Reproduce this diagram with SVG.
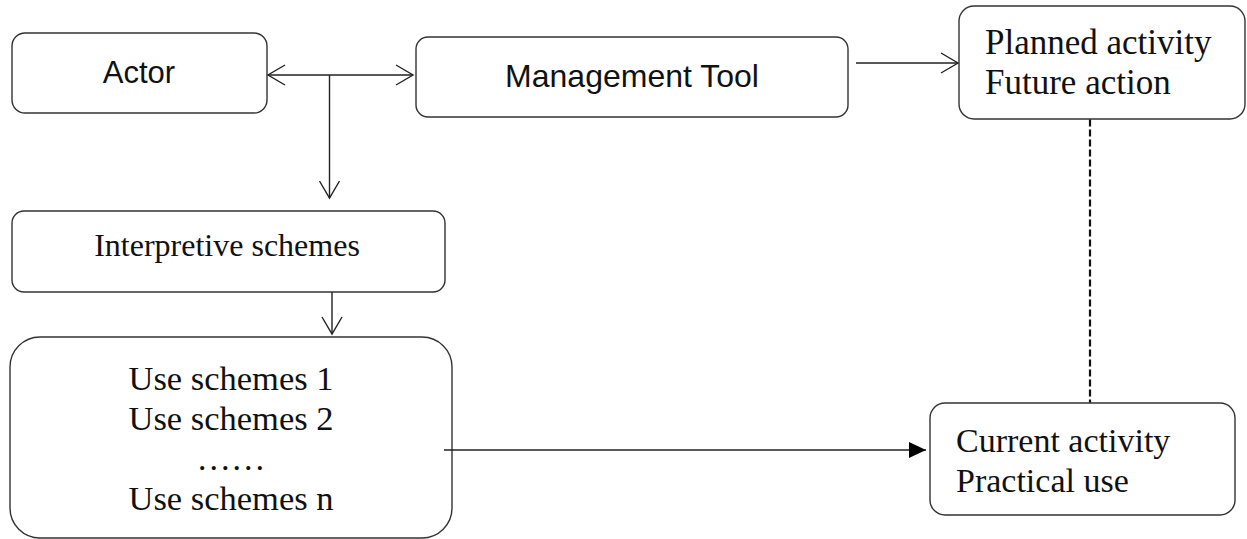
<svg xmlns="http://www.w3.org/2000/svg" width="1247" height="539" viewBox="0 0 1247 539">
<defs>
<style>
.box{fill:#fff;stroke:#333;stroke-width:1.4}
.ln{fill:none;stroke:#222;stroke-width:1.4}
.sans{font-family:"Liberation Sans",Arial,sans-serif;fill:#111}
.serif{font-family:"Liberation Serif","Times New Roman",serif;fill:#111}
</style>
<marker id="open" viewBox="0 0 20 22" refX="18" refY="11" markerWidth="20" markerHeight="22" markerUnits="userSpaceOnUse" orient="auto-start-reverse">
<path d="M1,1 L18,11 L1,21" fill="none" stroke="#222" stroke-width="1.4"/>
</marker>
<marker id="solid" viewBox="0 0 18 16" refX="17" refY="8" markerWidth="18" markerHeight="16" markerUnits="userSpaceOnUse" orient="auto">
<path d="M0,0 L17,8 L0,16 Z" fill="#000"/>
</marker>
</defs>
<g id="actor">
<rect class="box" x="12" y="33" width="255" height="80" rx="13"/>
<text class="sans" x="139" y="83" font-size="31" text-anchor="middle">Actor</text>
</g>
<g id="management-tool">
<rect class="box" x="416" y="37" width="432" height="80" rx="12"/>
<text class="sans" x="632" y="87" font-size="32" text-anchor="middle">Management Tool</text>
</g>
<g id="planned-activity">
<rect class="box" x="959" y="6" width="286" height="113" rx="15"/>
<text class="serif" x="985" y="54" font-size="35">Planned activity</text>
<text class="serif" x="985" y="94" font-size="35">Future action</text>
</g>
<g id="interpretive-schemes">
<rect class="box" x="12" y="211" width="433" height="81" rx="12"/>
<text class="serif" x="227" y="256" font-size="32" text-anchor="middle">Interpretive schemes</text>
</g>
<g id="use-schemes">
<rect class="box" x="10" y="337" width="442" height="201" rx="30"/>
<text class="serif" x="231" y="390" font-size="34.5" text-anchor="middle">Use schemes 1</text>
<text class="serif" x="231" y="430" font-size="34.5" text-anchor="middle">Use schemes 2</text>
<text class="serif" x="231" y="470" font-size="34.5" text-anchor="middle">……</text>
<text class="serif" x="231" y="510" font-size="34.5" text-anchor="middle">Use schemes n</text>
</g>
<g id="current-activity">
<rect class="box" x="930" y="403" width="305" height="112" rx="15"/>
<text class="serif" x="956" y="452" font-size="34">Current activity</text>
<text class="serif" x="956" y="492" font-size="34">Practical use</text>
</g>
<g id="connectors">
<line class="ln" x1="268" y1="75" x2="413" y2="75" marker-start="url(#open)" marker-end="url(#open)"/>
<line class="ln" x1="329.5" y1="75" x2="329.5" y2="198" marker-end="url(#open)"/>
<line class="ln" x1="332" y1="292" x2="332" y2="334" marker-end="url(#open)"/>
<line class="ln" x1="856" y1="63" x2="958" y2="63" marker-end="url(#open)"/>
<line class="ln" x1="444" y1="450" x2="926" y2="450" marker-end="url(#solid)"/>
<line x1="1090" y1="119.5" x2="1090" y2="402.5" stroke="#111" stroke-width="2.2" stroke-dasharray="7 3"/>
</g>
</svg>
